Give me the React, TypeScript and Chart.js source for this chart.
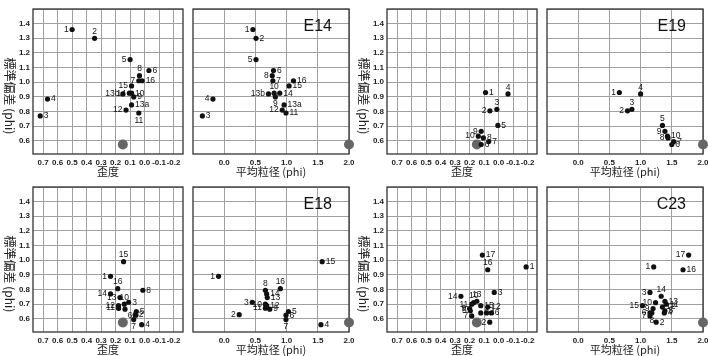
import React, { useEffect, useRef } from 'react';
import { Chart, registerables } from 'chart.js';
Chart.register(...registerables);

// ---- tick values ----
const skewTicks = [0.7, 0.6, 0.5, 0.4, 0.3, 0.2, 0.1, 0.0, -0.1, -0.2];
const meanTicks = [0.0, 0.5, 1.0, 1.5, 2.0];
const sdTicks = [0.6, 0.7, 0.8, 0.9, 1.0, 1.1, 1.2, 1.3, 1.4, 1.5];

// ---- E14 ----
const e14Labels = ['1', '2', '3', '4', '5', '6', '7', '8', '9', '10', '11', '12', '13a', '13b', '14', '15', '16'];
const e14Skew = [0.5, 0.345, 0.72, 0.67, 0.1, -0.03, 0.04, 0.035, 0.075, 0.09, 0.04, 0.128, 0.09, 0.15, 0.105, 0.09, 0.017];
const e14Mean = [0.46, 0.51, -0.35, -0.18, 0.51, 0.79, 0.78, 0.77, 0.82, 0.8, 0.99, 0.93, 0.96, 0.71, 0.89, 1.04, 1.11];
const e14Sd = [1.36, 1.3, 0.77, 0.885, 1.155, 1.08, 1.01, 1.045, 0.9, 0.925, 0.79, 0.81, 0.845, 0.92, 0.925, 0.975, 1.01];

// ---- E19 ----
const e19Labels = ['1', '2', '3', '4', '5', '6', '7', '8', '9', '10'];
const e19Skew = [0.09, 0.06, 0.012, -0.065, 0.005, 0.12, 0.068, 0.105, 0.12, 0.14];
const e19Mean = [0.66, 0.79, 0.86, 1.0, 1.35, 1.5, 1.53, 1.44, 1.39, 1.43];
const e19Sd = [0.93, 0.805, 0.815, 0.92, 0.705, 0.575, 0.595, 0.62, 0.665, 0.632];

// ---- E18 ----
const e18Labels = ['1', '2', '3', '4', '5', '6', '7', '8', '9', '10', '11', '12', '13', '14', '15', '16'];
const e18Skew = [0.235, 0.065, 0.11, 0.02, 0.057, 0.06, 0.075, 0.012, 0.135, 0.14, 0.18, 0.18, 0.17, 0.235, 0.145, 0.185];
const e18Mean = [-0.09, 0.24, 0.45, 1.55, 1.03, 0.99, 0.99, 0.66, 0.73, 0.66, 0.66, 0.68, 0.69, 0.68, 1.57, 0.9];
const e18Sd = [0.89, 0.628, 0.713, 0.56, 0.65, 0.625, 0.595, 0.795, 0.666, 0.7, 0.673, 0.69, 0.745, 0.77, 0.99, 0.806];

// ---- C23 ----
const c23Labels = ['1', '2', '3', '4', '5', '6', '7', '8', '9', '10', '11', '12', '13', '14', '15', '16', '17'];
const c23Skew = [-0.19, 0.061, 0.03, 0.083, 0.195, 0.05, 0.185, 0.123, 0.2, 0.172, 0.185, 0.075, 0.15, 0.26, 0.123, 0.075, 0.112];
const c23Mean = [1.21, 1.25, 1.15, 1.38, 1.39, 1.15, 1.15, 1.18, 1.2, 1.24, 1.41, 1.35, 1.39, 1.33, 1.03, 1.68, 1.77];
const c23Sd = [0.954, 0.577, 0.78, 0.64, 0.655, 0.64, 0.62, 0.64, 0.67, 0.71, 0.7, 0.68, 0.72, 0.754, 0.69, 0.935, 1.035];

// ---- reference (large gray dot) ----
const refSkew = [0.15];
const refMean = [2.0];
const refSd = [0.575];

// label placement (layout only): r=right, l=left, t=top, b=bottom
const e14PlaceSkew = 'ltrrlrltrrblrlllr';
const e14PlaceMean = 'lrrllrrlbtrlrlrrr';
const e19PlaceSkew = 'rlttrrrrll';
const e19PlaceMean = 'lltttrrllr';
const e18PlaceSkew = 'lrrrrlbrltlllltt';
const e18PlaceMean = 'lllrrrbtrllrrrrt';
const c23PlaceSkew = 'rlrrlrlrltlrtlrtr';
const c23PlaceMean = 'lrlrrllbllrrrtlrl';

const panels = [
  { name: 'E14', labels: e14Labels, skew: e14Skew, mean: e14Mean, sd: e14Sd, ps: e14PlaceSkew, pm: e14PlaceMean, x: 0, y: 0 },
  { name: 'E19', labels: e19Labels, skew: e19Skew, mean: e19Mean, sd: e19Sd, ps: e19PlaceSkew, pm: e19PlaceMean, x: 354, y: 0 },
  { name: 'E18', labels: e18Labels, skew: e18Skew, mean: e18Mean, sd: e18Sd, ps: e18PlaceSkew, pm: e18PlaceMean, x: 0, y: 178 },
  { name: 'C23', labels: c23Labels, skew: c23Skew, mean: c23Mean, sd: c23Sd, ps: c23PlaceSkew, pm: c23PlaceMean, x: 354, y: 178 },
];

const SANS = '"Liberation Sans", Arial, sans-serif';
const CJK = '"Noto Sans CJK JP", "Liberation Sans", sans-serif';

const framePlugin = {
  id: 'frame',
  beforeDatasetsDraw(chart: any) {
    const { ctx, chartArea: a } = chart;
    ctx.save();
    ctx.strokeStyle = '#333';
    ctx.lineWidth = 1.3;
    ctx.strokeRect(a.left, a.top, a.right - a.left, a.bottom - a.top);
    ctx.restore();
  },
};

const labelPlugin = {
  id: 'ptLabels',
  afterDatasetsDraw(chart: any, _args: any, opts: any) {
    if (!opts || !opts.labels) return;
    const meta = chart.getDatasetMeta(0);
    const ctx = chart.ctx;
    ctx.save();
    ctx.font = '8.5px ' + SANS;
    ctx.fillStyle = '#111';
    meta.data.forEach((el: any, i: number) => {
      const t = opts.labels[i];
      const p = opts.place[i] || 'r';
      let x = el.x, y = el.y;
      if (p === 'r') { ctx.textAlign = 'left'; ctx.textBaseline = 'middle'; x += 3.5; }
      else if (p === 'l') { ctx.textAlign = 'right'; ctx.textBaseline = 'middle'; x -= 3.5; }
      else if (p === 't') { ctx.textAlign = 'center'; ctx.textBaseline = 'bottom'; y -= 2.5; }
      else { ctx.textAlign = 'center'; ctx.textBaseline = 'top'; y += 3; }
      ctx.fillText(t, x, y);
    });
    ctx.restore();
  },
};

const textPlugin = {
  id: 'extraText',
  afterDraw(chart: any, _args: any, opts: any) {
    const ctx = chart.ctx;
    ctx.save();
    if (opts && opts.yTitle) {
      ctx.translate(10, 96);
      ctx.rotate(Math.PI / 2);
      ctx.font = '12px ' + CJK;
      ctx.fillStyle = '#222';
      ctx.textAlign = 'center';
      ctx.textBaseline = 'middle';
      ctx.fillText(opts.yTitle, 0, 0);
    }
    if (opts && opts.panelName) {
      ctx.font = '16px ' + SANS;
      ctx.fillStyle = '#111';
      ctx.textAlign = 'right';
      ctx.textBaseline = 'alphabetic';
      ctx.fillText(opts.panelName, 144, 31);
    }
    ctx.restore();
  },
};

function fmt(v: number) {
  return (Math.abs(v) < 1e-9 ? 0 : v).toFixed(1);
}

function makeConfig(panel: any, kind: 'skew' | 'mean'): any {
  const isSkew = kind === 'skew';
  const xs: number[] = isSkew ? panel.skew : panel.mean;
  const pts = panel.labels.map((_: string, i: number) => ({ x: xs[i], y: panel.sd[i] }));
  const ref = (isSkew ? refSkew : refMean).map((v, i) => ({ x: v, y: refSd[i] }));
  const xTicks = isSkew ? skewTicks : meanTicks;
  return {
    type: 'scatter',
    data: {
      datasets: [
        { data: pts, pointRadius: 2.6, pointBackgroundColor: '#111', pointBorderWidth: 0, clip: false },
        { data: ref, pointRadius: 5, pointBackgroundColor: '#666', pointBorderWidth: 0, clip: false },
      ],
    },
    options: {
      responsive: false,
      animation: false,
      events: [],
      layout: { padding: { top: 9, right: isSkew ? 0 : 4, left: 0, bottom: 0 } },
      plugins: {
        legend: { display: false },
        tooltip: { enabled: false },
        ptLabels: { labels: panel.labels, place: (isSkew ? panel.ps : panel.pm).split('') },
        extraText: isSkew ? { yTitle: '標準偏差 (phi)' } : { panelName: panel.name },
      },
      scales: {
        x: {
          type: 'linear',
          reverse: isSkew,
          min: isSkew ? -0.265 : -0.5,
          max: isSkew ? 0.77 : 2.0,
          afterBuildTicks: (s: any) => { s.ticks = xTicks.map((v) => ({ value: v })); },
          afterFit: (s: any) => { s.height = 24; s.paddingLeft = 0; s.paddingRight = 0; },
          grid: { color: '#a0a0a0', lineWidth: 1, drawTicks: false },
          border: { display: false },
          ticks: {
            padding: 4,
            maxRotation: 0,
            autoSkip: false,
            color: '#222',
            font: { size: 8, family: SANS, weight: 'bold' },
            callback: (v: any) => fmt(Number(v)),
          },
          title: {
            display: true,
            text: isSkew ? '歪度' : '平均粒径 (phi)',
            color: '#222',
            padding: 0,
            font: { size: 11, family: CJK, lineHeight: 1.05 },
          },
        },
        y: {
          type: 'linear',
          min: 0.51,
          max: 1.5,
          afterBuildTicks: (s: any) => { s.ticks = sdTicks.map((v) => ({ value: v })); },
          afterFit: (s: any) => { s.width = isSkew ? 33 : 0; s.paddingTop = 0; s.paddingBottom = 0; },
          grid: { color: '#a0a0a0', lineWidth: 1, drawTicks: false },
          border: { display: false },
          ticks: {
            display: isSkew,
            padding: 3,
            autoSkip: false,
            color: '#222',
            font: { size: 8, family: SANS, weight: 'bold' },
            callback: (v: any) => (Number(v) > 1.45 ? '' : fmt(Number(v))),
          },
        },
      },
    },
    plugins: [framePlugin, labelPlugin, textPlugin],
  };
}

function SubChart({ panel, kind, left, width }: any) {
  const ref = useRef<HTMLCanvasElement>(null);
  useEffect(() => {
    const c = new Chart(ref.current as HTMLCanvasElement, makeConfig(panel, kind));
    return () => c.destroy();
  }, []);
  return (
    <canvas
      ref={ref}
      width={width}
      height={178}
      style={{ position: 'absolute', left, top: 0, width, height: 178 }}
    />
  );
}

export default function App() {
  return (
    <div style={{ position: 'absolute', left: 0, top: 0, width: 708, height: 356, background: '#fff', overflow: 'hidden' }}>
      {panels.map((p) => (
        <div key={p.name} style={{ position: 'absolute', left: p.x, top: p.y, width: 354, height: 178 }}>
          <SubChart panel={p} kind="skew" left={0} width={188} />
          <SubChart panel={p} kind="mean" left={188} width={166} />
        </div>
      ))}
    </div>
  );
}
